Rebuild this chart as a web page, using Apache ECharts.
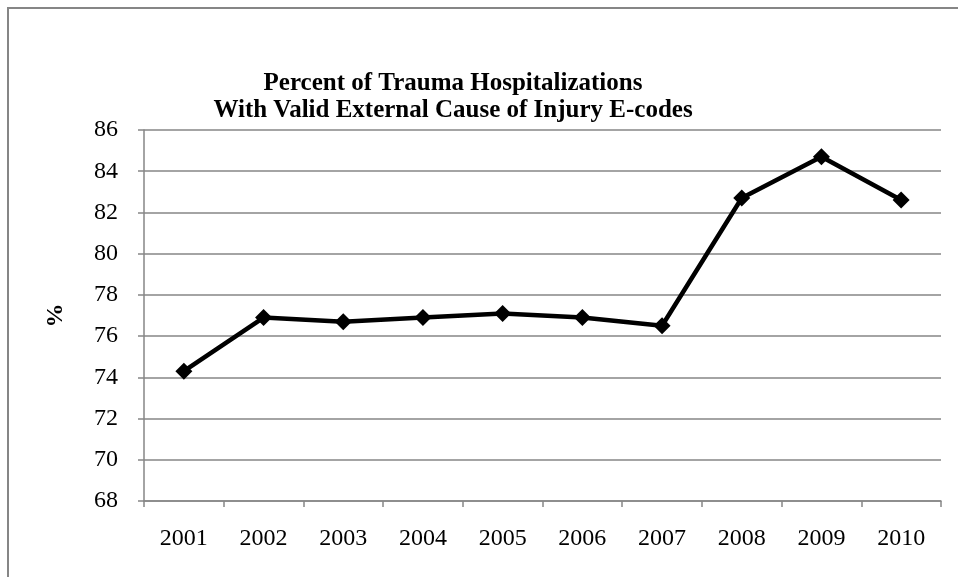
<!DOCTYPE html>
<html style="height: 100%">
<head>
  <meta charset="UTF-8" />
  <title>Trauma Hospitalizations E-codes</title>
  <script src="https://cdn.jsdelivr.net/npm/echarts@6/dist/echarts.min.js"></script>
</head>
<body style="height: 100%; margin: 0; background: #fff">
  <div id="main" style="width: 958px; height: 577px"></div>
  <script>
    const years = ['2001', '2002', '2003', '2004', '2005', '2006', '2007', '2008', '2009', '2010'];
    const percentValid = [74.3, 76.9, 76.7, 76.9, 77.1, 76.9, 76.5, 82.7, 84.7, 82.6];

    const chart = echarts.init(document.getElementById('main'));
    const serif = '"Liberation Serif", "Times New Roman", serif';
    const gray = '#868686';

    chart.setOption({
      animation: false,
      textStyle: { fontFamily: serif },
      // outer frame (only top and left edges fall inside the picture)
      graphic: [{
        type: 'rect',
        shape: { x: 8, y: 8, width: 1000, height: 620 },
        style: { fill: 'none', stroke: gray, lineWidth: 2 },
        silent: true
      }],
      title: {
        text: 'Percent of Trauma Hospitalizations\nWith Valid External Cause of Injury E-codes',
        left: 448,
        top: 65,
        textAlign: 'center',
        textStyle: {
          fontFamily: serif,
          fontWeight: 'bold',
          fontSize: 25,
          lineHeight: 27,
          color: '#000'
        }
      },
      grid: { left: 144, right: 17, top: 130, bottom: 76 },
      xAxis: {
        type: 'category',
        data: years,
        boundaryGap: true,
        axisLine: { lineStyle: { color: gray, width: 1.5 } },
        axisTick: { show: true, length: 6, lineStyle: { color: gray, width: 1.5 } },
        axisLabel: { color: '#000', fontSize: 24, fontFamily: serif, margin: 26 }
      },
      yAxis: {
        type: 'value',
        min: 68,
        max: 86,
        interval: 2,
        name: '%',
        nameLocation: 'middle',
        nameGap: 76,
        nameRotate: 90,
        nameTextStyle: { color: '#000', fontSize: 24, fontWeight: 'bold', fontFamily: serif },
        axisLine: { show: true, lineStyle: { color: gray, width: 1.5 } },
        axisTick: { show: true, length: 6, lineStyle: { color: gray, width: 1.5 } },
        axisLabel: { color: '#000', fontSize: 24, fontFamily: serif, margin: 26 },
        splitLine: { lineStyle: { color: gray, width: 1.5 } }
      },
      series: [{
        name: 'Percent',
        type: 'line',
        data: percentValid,
        symbol: 'diamond',
        symbolSize: 17,
        itemStyle: { color: '#000' },
        lineStyle: { color: '#000', width: 4.5 }
      }]
    });
  </script>
</body>
</html>
